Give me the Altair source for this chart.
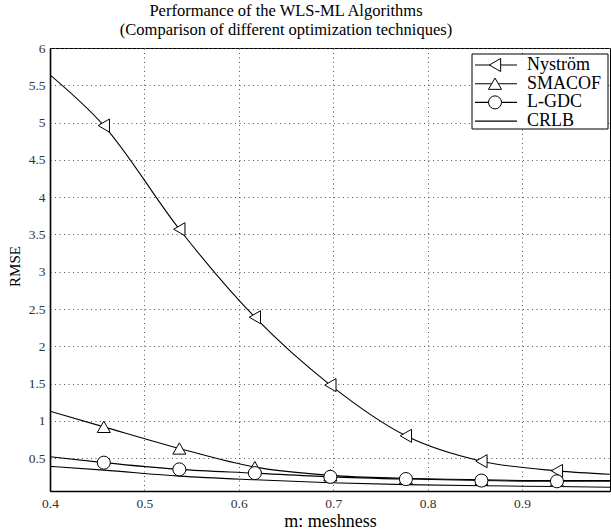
import altair as alt
import pandas as pd

# ---- data ----
m_vals = [0.40, 0.457, 0.537, 0.617, 0.697, 0.777, 0.857, 0.937, 1.00]
nystrom = [5.64, 4.96, 3.57, 2.39, 1.48, 0.80, 0.46, 0.33, 0.28]
smacof = [1.13, 0.92, 0.63, 0.38, 0.27, 0.23, 0.21, 0.20, 0.20]
lgdc = [0.52, 0.44, 0.35, 0.30, 0.25, 0.22, 0.20, 0.19, 0.19]
crlb = [0.39, 0.34, 0.26, 0.21, 0.17, 0.145, 0.13, 0.12, 0.11]
marker_flag = [False, True, True, True, True, True, True, True, False]

series_names = ["Nyström", "SMACOF", "L-GDC", "CRLB"]
series_shapes = ["triangle-left", "triangle-up", "circle", "none"]
x_ticks = [0.4, 0.5, 0.6, 0.7, 0.8, 0.9]
y_ticks = [0.5, 1, 1.5, 2, 2.5, 3, 3.5, 4, 4.5, 5, 5.5, 6]

rows = []
for name, vals in zip(series_names, [nystrom, smacof, lgdc, crlb]):
    for xv, yv, mk in zip(m_vals, vals, marker_flag):
        rows.append({"m": xv, "rmse": yv, "series": name, "marker": mk})
df = pd.DataFrame(rows)
legend_df = pd.DataFrame({"series": series_names, "idx": list(range(len(series_names)))})

FONT = "Liberation Serif"
xscale = alt.Scale(domain=[0.4, 0.9932], nice=False, zero=False)
yscale = alt.Scale(domain=[0.06, 6], nice=False, zero=False)

xenc = alt.X("m:Q", scale=xscale, axis=alt.Axis(
    values=x_ticks, format=".1f", title="m: meshness", titleFontSize=18,
    titlePadding=3, labelPadding=5))
yenc = alt.Y("rmse:Q", scale=yscale, axis=alt.Axis(
    values=y_ticks, format="~g", title="RMSE", titleFontSize=15,
    titlePadding=6, labelPadding=5, titleY=218))

base = alt.Chart(df)

lines = base.mark_line(interpolate="monotone", color="black", clip=True).encode(
    x=xenc, y=yenc, detail="series:N",
    strokeWidth=alt.StrokeWidth("series:N", scale=alt.Scale(
        domain=series_names, range=[1.1, 1.1, 1.1, 2.0]), legend=None),
)

def markers(name, shape):
    return base.transform_filter(
        (alt.datum.series == name) & alt.datum.marker
    ).mark_point(shape=shape, size=170, filled=True, fill="white",
                 stroke="black", strokeWidth=1, opacity=1).encode(x=xenc, y=yenc)

m1 = markers(series_names[0], series_shapes[0])
m2 = markers(series_names[1], series_shapes[1])
m3 = markers(series_names[2], series_shapes[2])

# ---- legend (drawn in pixel space, top-right of the plot) ----
leg = alt.Chart(legend_df).transform_calculate(py="17 + 18.7 * datum.idx")
leg_box = alt.Chart(legend_df).transform_filter("datum.idx == 0").mark_rect(
    fill="white", stroke="black", strokeWidth=1
).encode(x=alt.value(422), x2=alt.value(558), y=alt.value(6), y2=alt.value(81))
leg_lines = leg.mark_rule(color="black").encode(
    x=alt.value(425), x2=alt.value(467), y=alt.Y("py:Q", scale=None),
    strokeWidth=alt.StrokeWidth("series:N", scale=alt.Scale(
        domain=series_names, range=[1.1, 1.1, 1.1, 1.6]), legend=None),
)
leg_marks = leg.transform_filter("datum.idx < 3").mark_point(
    size=170, filled=True, fill="white", stroke="black", strokeWidth=1, opacity=1
).encode(
    x=alt.value(445), y=alt.Y("py:Q", scale=None),
    shape=alt.Shape("series:N", scale=alt.Scale(domain=series_names, range=series_shapes),
                    legend=None),
)
leg_text = leg.mark_text(align="left", baseline="middle", font=FONT, fontSize=18,
                         color="black").encode(
    x=alt.value(477), y=alt.Y("py:Q", scale=None), text="series:N")

chart = alt.layer(lines, m1, m2, m3, leg_box, leg_lines, leg_marks, leg_text).properties(
    width=560, height=443,
    title=alt.TitleParams(
        ["Performance of the WLS-ML Algorithms",
         "(Comparison of different optimization techniques)"],
        font=FONT, fontSize=16.5, fontWeight="normal", color="black",
        anchor="middle", dx=-44, lineHeight=18.5, offset=3),
    padding={"left": 50, "top": 48, "right": 1, "bottom": 40},
    autosize=alt.AutoSizeParams(type="none"),
).configure_view(
    stroke="black", strokeWidth=1
).configure_axis(
    labelFont=FONT, titleFont=FONT, labelFontSize=13.5, labelColor="#333333",
    titleColor="black", titleFontWeight="normal",
    grid=True, gridColor="#555555", gridDash=[1, 3.5], gridWidth=1,
    ticks=False, domainColor="black", domainWidth=1.6, labelFlush=False,
)

chart.save("out.html", embed_options={"renderer": "svg", "actions": False})
